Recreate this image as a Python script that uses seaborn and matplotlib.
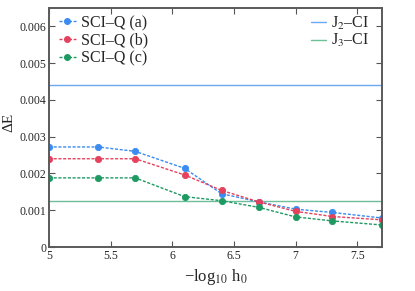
import matplotlib
matplotlib.use("Agg")
import matplotlib.pyplot as plt
import seaborn as sns
import pandas as pd
from matplotlib.ticker import FixedLocator
from matplotlib.lines import Line2D

# data
log_h0 = [5.0, 5.4, 5.7, 6.1, 6.4, 6.7, 7.0, 7.3, 7.7]
sciq_a = [0.00272, 0.00272, 0.00260, 0.00214, 0.00145, 0.00123, 0.00103, 0.00094, 0.00079]
sciq_b = [0.00240, 0.00240, 0.00240, 0.00196, 0.00154, 0.00123, 0.00097, 0.00083, 0.00074]
sciq_c = [0.00188, 0.00188, 0.00188, 0.00137, 0.00126, 0.00108, 0.00082, 0.00071, 0.00060]
j2_ci = 0.00441
j3_ci = 0.00126

series_names = ["SCI\u2013Q (a)", "SCI\u2013Q (b)", "SCI\u2013Q (c)"]
series_colors = ["#3a8cf0", "#e5415c", "#1d9a62"]

df = pd.DataFrame({"x": log_h0 * 3,
                   "dE": sciq_a + sciq_b + sciq_c,
                   "series": sum([[n] * len(log_h0) for n in series_names], [])})

sns.set_style("ticks")
plt.rcParams["font.family"] = ["Liberation Serif", "DejaVu Serif"]
plt.rcParams["mathtext.fontset"] = "stix"

fig = plt.figure(figsize=(4.15, 2.91), dpi=100)
ax = fig.add_axes([0.118, 0.151, 0.802, 0.822])

# reference CI lines
h2 = ax.axhline(j2_ci, color="#6aa8f0", lw=1.0)
h3 = ax.axhline(j3_ci, color="#6cbf98", lw=1.0)

sns.lineplot(data=df, x="x", y="dE", hue="series", palette=series_colors,
             marker="o", markersize=4.5, markeredgewidth=0.6, linestyle="--",
             lw=1.0, ax=ax, legend=False)
for line in ax.lines[2:]:
    line.set_dashes([2.2, 1.2])
    line.set_markeredgecolor(line.get_color())

ax.set_xlim(5, 7.7)
ax.set_ylim(0, 0.0065)
ax.xaxis.set_major_locator(FixedLocator([5, 5.5, 6, 6.5, 7, 7.5]))
ax.set_xticklabels(["5", "5.5", "6", "6.5", "7", "7.5"])
ax.yaxis.set_major_locator(FixedLocator([0, 0.001, 0.002, 0.003, 0.004, 0.005, 0.006]))
ax.set_yticklabels(["0", "0.001", "0.002", "0.003", "0.004", "0.005", "0.006"])
ax.tick_params(direction="in", top=True, right=True, labelsize=8.5, length=4,
               width=0.8, color="#555555", pad=2)
for s in ax.spines.values():
    s.set_color("#5a5a5a")
    s.set_linewidth(1.4)

ax.set_xlabel("\u2212log$_{10}$ h$_0$", fontsize=12, labelpad=4)
ax.set_ylabel("\u0394E", fontsize=11)
ax.yaxis.set_label_coords(-0.1, 0.52)

# legends
hs = [Line2D([0], [0], color=c, ls=(0, (2.2, 1.2)), marker="o", ms=4, lw=1.0)
      for c in series_colors]
leg1 = ax.legend(hs, series_names, loc="upper left", frameon=False, fontsize=11.5,
                 handlelength=1.1, handletextpad=0.3, labelspacing=0.1,
                 borderaxespad=0.2, bbox_to_anchor=(0.0, 1.01))
ax.add_artist(leg1)
ax.legend([h2, h3], ["J$_2$\u2013CI", "J$_3$\u2013CI"], loc="upper right",
          frameon=False, fontsize=11.5, handlelength=0.95, handletextpad=0.3,
          labelspacing=0.0, borderaxespad=0.2, bbox_to_anchor=(0.99, 1.01))

fig.savefig("out.png", dpi=100)
